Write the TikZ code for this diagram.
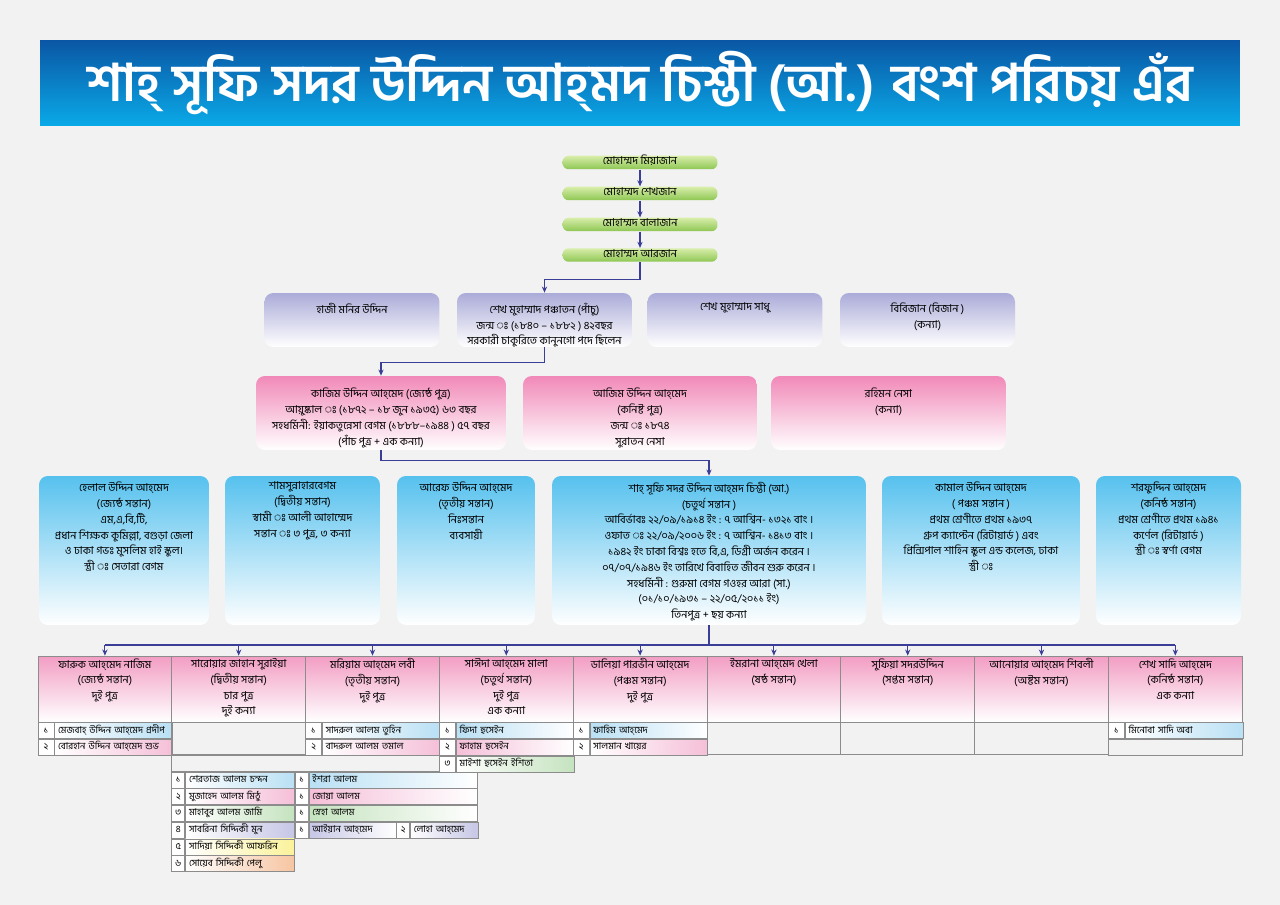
\documentclass[tikz,border=0pt]{standalone}
\usepackage{fontspec}
\setmainfont[Script=Bengali]{Hind Siliguri}
\usetikzlibrary{arrows.meta,positioning}

\definecolor{linec}{HTML}{3A3E96}
\definecolor{bgc}{HTML}{F2F2F2}
\definecolor{titletop}{HTML}{0A56A4}
\definecolor{titlebot}{HTML}{0AAAE8}
\definecolor{chaintop}{HTML}{D8EEAA}
\definecolor{chainbot}{HTML}{8EC653}
\definecolor{lavtop}{HTML}{ABABD9}
\definecolor{pinktop}{HTML}{F189B8}
\definecolor{bluetop}{HTML}{56C1EE}
\definecolor{headtop}{HTML}{F29DC3}
\definecolor{cellc}{HTML}{8C8C8C}
\definecolor{kblue}{HTML}{B9E0F4}
\definecolor{kpink}{HTML}{F5BFD8}
\definecolor{kgreen}{HTML}{C5E3BF}
\definecolor{klav}{HTML}{C6C6E6}
\definecolor{kyel}{HTML}{FBF29A}
\definecolor{kpeach}{HTML}{F6C5A2}

% number cell + name cell of one child
\newcommand{\gkid}[7]{%
  \node[numcell, minimum width=#3, anchor=north west] (#1n) at #2 {#4};
  \node[namecell, #6, text width=#7, right=0pt of #1n] (#1) {\mbox{\hspace*{2pt}#5}};
}

\begin{document}
\begin{tikzpicture}[x=0.02cm, y=-0.02cm, font=\fontsize{6.2}{9}\selectfont,
  arr/.style={-{Stealth[length=3.5pt,width=3pt]}, draw=linec, line width=0.6pt},
  bar/.style={draw=linec, line width=0.6pt},
  banner/.style={top color=titletop, bottom color=titlebot, minimum width=24cm, minimum height=1.72cm, text=white, font=\fontsize{29.5}{35}\selectfont\bfseries},
  chainbox/.style={rounded corners=3.5pt, top color=chaintop, bottom color=chainbot, minimum width=3.1cm, minimum height=0.27cm, inner sep=0pt, text height=4pt, text depth=1.4pt},
  uncle/.style={rounded corners=5pt, top color=lavtop, bottom color=white, minimum width=3.5cm, minimum height=1.08cm},
  son/.style={rounded corners=5pt, top color=pinktop, bottom color=white, minimum height=1.48cm},
  kid/.style={rounded corners=5pt, top color=bluetop, bottom color=white, minimum height=2.98cm},
  head/.style={draw=cellc, line width=0.4pt, top color=headtop, bottom color=white, minimum width=2.676cm, minimum height=1.32cm},
  txt/.style={align=center, inner sep=0pt},
  numcell/.style={draw=cellc, line width=0.4pt, fill=white, minimum height=0.32cm, inner sep=0pt, text height=4.2pt, text depth=1.4pt, font=\fontsize{5.4}{7}\selectfont},
  namecell/.style={draw=cellc, line width=0.4pt, minimum height=0.32cm, inner sep=0pt, text height=4.2pt, text depth=1.4pt, align=left, font=\fontsize{5.4}{7}\selectfont},
  emptycell/.style={draw=cellc, line width=0.4pt, anchor=north west, inner sep=0pt}]
\useasboundingbox (0,0) rectangle (1280,905);
\fill[bgc] (0,0) rectangle (1280,905);

% title
\node[banner] (title) at (640,83) {শাহ্ সূফি সদর উদ্দিন আহ্^^^^200cমদ চিশ্তী (আ.) বংশ পরিচয় এঁর};

% forefathers
\node[chainbox] (c1) at (640,162.5) {মোহাম্মদ মিয়াজান};
\node[chainbox] (c2) at (640,193.5) {মোহাম্মদ শেখজান};
\node[chainbox] (c3) at (640,224.5) {মোহাম্মদ বালাজান};
\node[chainbox] (c4) at (640,255) {মোহাম্মদ আরজান};
\draw[arr] (c1) -- (c2);
\draw[arr] (c2) -- (c3);
\draw[arr] (c3) -- (c4);

% second generation
\node[uncle] (p1) at (352,320) {};
\node[uncle] (p2) at (544.5,320) {};
\node[uncle] (p3) at (735,320) {};
\node[uncle] (p4) at (927.5,320) {};
\node[txt, below=2mm of p1.north] (p1t) {হাজী মনির উদ্দিন};
\node[txt, below=2mm of p2.north] (p2t) {শেখ মুহাম্মাদ পঞ্চাতন (পাঁচু)\\জন্ম ঃ (১৮৪০ – ১৮৮২ ) ৪২বছর\\সরকারী চাকুরিতে কানুনগো পদে ছিলেন};
\node[txt, below=2mm of p3.north] (p3t) {শেখ মুহাম্মাদ সাধু};
\node[txt, below=2mm of p4.north] (p4t) {বিবিজান (বিজান )\\(কন্যা)};
\draw[arr] (c4.south) -- ++(0,17) -| (p2.north);

% third generation
\node[son, minimum width=5cm] (k1) at (381,413) {};
\node[son, minimum width=4.68cm] (k2) at (640,413) {};
\node[son, minimum width=4.7cm] (k3) at (888.5,413) {};
\node[txt, below=2.4mm of k1.north] (k1t) {কাজিম উদ্দিন আহ্^^^^200cমেদ  (জ্যেষ্ঠ পুত্র)\\আয়ুষ্কাল ঃ  (১৮৭২ – ১৮ জুন ১৯৩৫) ৬৩ বছর\\সহধর্মিনী: ইয়াকতুন্নেসা বেগম (১৮৮৮–১৯৪৪ ) ৫৭ বছর\\(পাঁচ পুত্র + এক কন্যা)};
\node[txt, below=2.4mm of k2.north] (k2t) {আজিম উদ্দিন আহ্^^^^200cমেদ\\(কনিষ্ট পুত্র)\\জন্ম ঃ ১৮৭৪\\সুরাতন নেসা};
\node[txt, below=2.4mm of k3.north] (k3t) {রহিমন নেসা\\(কন্যা)};
\draw[arr] (p2.south) -- ++(0,15) -| (k1.north);

% fourth generation
\node[kid, minimum width=3.4cm] (b1) at (124,550.5) {};
\node[kid, minimum width=3.1cm] (b2) at (302.5,550.5) {};
\node[kid, minimum width=2.76cm] (b3) at (466,550.5) {};
\node[kid, minimum width=6.28cm] (b4) at (709,550.5) {};
\node[kid, minimum width=3.96cm] (b5) at (981,550.5) {};
\node[kid, minimum width=2.9cm] (b6) at (1168.5,550.5) {};
\node[txt, below=1.2mm of b1.north] (b1t) {হেলাল উদ্দিন আহ্^^^^200cমেদ\\(জ্যেষ্ঠ সন্তান)\\এম,এ,বি,টি,\\প্রধান শিক্ষক কুমিল্লা, বগুড়া জেলা\\ও ঢাকা গভঃ মুসলিম হাই স্কুল।\\স্ত্রী ঃ সেতারা বেগম};
\node[txt, below=1.2mm of b2.north] (b2t) {শামসুন্নাহারবেগম\\(দ্বিতীয় সন্তান)\\স্বামী ঃ আলী আহাম্মেদ\\সন্তান ঃ ৩ পুত্র, ৩ কন্যা};
\node[txt, below=1.2mm of b3.north] (b3t) {আরেফ উদ্দিন আহ্^^^^200cমেদ\\(তৃতীয় সন্তান)\\নিঃসন্তান\\ব্যবসায়ী};
\node[txt, below=1.2mm of b4.north] (b4t) {শাহ্ সূফি সদর উদ্দিন আহ্^^^^200cমদ চিশ্তী (আ.)\\(চতুর্থ সন্তান )\\আবির্ভাবঃ ২২/০৯/১৯১৪ ইং : ৭ আশ্বিন- ১৩২১ বাং ।\\ওফাত ঃ ২২/০৯/২০০৬ ইং : ৭ আশ্বিন- ১৪১৩ বাং ।\\১৯৪২ ইং ঢাকা বিশ্বঃ হতে বি,এ, ডিগ্রী অর্জন করেন ।\\০৭/০৭/১৯৪৬ ইং তারিখে বিবাহিত জীবন শুরু করেন ।\\সহধর্মিনী : গুরুমা বেগম গওহর আরা (সা.)\\(০১/১০/১৯৩১ – ২২/০৫/২০১১ ইং)\\তিনপুত্র + ছয় কন্যা};
\node[txt, below=1.2mm of b5.north] (b5t) {কামাল উদ্দিন আহ্^^^^200cমেদ\\( পঞ্চম সন্তান )\\প্রথম শ্রেণীতে প্রথম ১৯৩৭\\গ্রুপ ক্যাপ্টেন (রিটায়ার্ড ) এবং\\প্রিন্সিপাল শাহিন স্কুল এন্ড কলেজ, ঢাকা\\স্ত্রী ঃ};
\node[txt, below=1.2mm of b6.north] (b6t) {শরফুদ্দিন আহ্^^^^200cমেদ\\(কনিষ্ঠ সন্তান)\\প্রথম শ্রেণীতে প্রথম ১৯৪১\\কর্ণেল (রিটায়ার্ড )\\স্ত্রী ঃ স্বর্ণা বেগম};
\draw[arr] (k1.south) -- ++(0,10) -| (b4.north);

% fifth generation
\foreach \i in {1,...,9}
  \node[head] (h\i) at ({38+133.8*(\i-0.5)},689) {};
\node[txt, below=0.5mm of h1.north] (h1t) {ফারুক আহ্^^^^200cমেদ নাজিম\\(জ্যেষ্ঠ সন্তান)\\দুই পুত্র};
\node[txt, below=0.5mm of h2.north] (h2t) {সারোয়ার জাহান সুরাইয়া\\(দ্বিতীয় সন্তান)\\চার পুত্র\\দুই কন্যা};
\node[txt, below=0.5mm of h3.north] (h3t) {মরিয়াম আহ্^^^^200cমেদ লবী\\(তৃতীয় সন্তান)\\দুই পুত্র};
\node[txt, below=0.5mm of h4.north] (h4t) {সাঈদা আহ্^^^^200cমেদ মালা\\(চতুর্থ সন্তান)\\দুই পুত্র\\এক কন্যা};
\node[txt, below=0.5mm of h5.north] (h5t) {ডালিয়া পারভীন আহ্^^^^200cমেদ\\(পঞ্চম সন্তান)\\দুই পুত্র};
\node[txt, below=0.5mm of h6.north] (h6t) {ইমরানা আহ্^^^^200cমেদ খেলা\\(ষষ্ঠ সন্তান)};
\node[txt, below=0.5mm of h7.north] (h7t) {সুফিয়া সদরউদ্দিন\\(সপ্তম সন্তান)};
\node[txt, below=0.5mm of h8.north] (h8t) {আনোয়ার আহ্^^^^200cমেদ শিবলী\\(অষ্টম সন্তান)};
\node[txt, below=0.5mm of h9.north] (h9t) {শেখ সাদি আহ্^^^^200cমেদ\\(কনিষ্ঠ সন্তান)\\এক কন্যা};
\coordinate (bus) at (709,645);
\draw[bar] (b4.south) -- (bus);
\draw[bar] (h1.north |- bus) -- (h9.north |- bus);
\foreach \i in {1,...,9}
  \draw[arr] (h\i.north |- bus) -- (h\i.north);

% grandchildren
\gkid{g11}{(h1.south west)}{0.32cm}{১}{মেজবাহ্ উদ্দিন আহ্^^^^200cমেদ প্রদীপ}{left color=white, right color=kblue}{2.356cm}
\gkid{g12}{(g11n.south west)}{0.32cm}{২}{বোরহান উদ্দিন আহ্^^^^200cমেদ শুভ}{left color=white, right color=kpink}{2.356cm}
\node[emptycell, minimum width=2.676cm, minimum height=0.64cm] (e2) at (h2.south west) {};
\node[emptycell, minimum width=5.352cm, minimum height=0.32cm] (e23) at (e2.south west) {};
\gkid{g31}{(h3.south west)}{0.32cm}{১}{সাদরুল আলম তুহিন}{left color=white, right color=kblue}{2.356cm}
\gkid{g32}{(g31n.south west)}{0.32cm}{২}{বাদরুল আলম তমাল}{left color=white, right color=kpink}{2.356cm}
\gkid{g41}{(h4.south west)}{0.32cm}{১}{ফিদা হুসেইন}{left color=kblue, right color=white}{2.356cm}
\gkid{g42}{(g41n.south west)}{0.32cm}{২}{ফাহাম হুসেইন}{left color=kpink, right color=white}{2.356cm}
\gkid{g43}{(g42n.south west)}{0.32cm}{৩}{মাইশা হুসেইন ইশিতা}{left color=white, right color=kgreen}{2.356cm}
\gkid{g51}{(h5.south west)}{0.32cm}{১}{ফাহিম আহ্^^^^200cমেদ}{left color=kblue, right color=white}{2.356cm}
\gkid{g52}{(g51n.south west)}{0.32cm}{২}{সালমান খায়ের}{left color=white, right color=kpink}{2.356cm}
\node[emptycell, minimum width=2.676cm, minimum height=0.64cm] (e6) at (h6.south west) {};
\node[emptycell, minimum width=2.676cm, minimum height=0.64cm] (e7) at (h7.south west) {};
\node[emptycell, minimum width=2.676cm, minimum height=0.64cm] (e8) at (h8.south west) {};
\gkid{g91}{(h9.south west)}{0.32cm}{১}{মিনোবা সাদি অবা}{left color=white, right color=kblue}{2.356cm}
\node[emptycell, minimum width=2.676cm, minimum height=0.32cm] (e9) at (g91n.south west) {};

% children of the second daughter
\gkid{r1}{(e23.south west)}{0.26cm}{১}{শেরতাজ আলম চন্দন}{left color=white, right color=kblue}{2.18cm}
\gkid{r1b}{(r1.north east)}{0.26cm}{১}{ইশরা আলম}{left color=kblue, right color=white}{3.36cm}
\gkid{r2}{(r1n.south west)}{0.26cm}{২}{মুজাহেদ আলম মিঠু}{left color=white, right color=kpink}{2.18cm}
\gkid{r2b}{(r2.north east)}{0.26cm}{১}{জোয়া আলম}{left color=kpink, right color=white}{3.36cm}
\gkid{r3}{(r2n.south west)}{0.26cm}{৩}{মাহাবুব আলম জামি}{left color=white, right color=kgreen}{2.18cm}
\gkid{r3b}{(r3.north east)}{0.26cm}{১}{স্নেহা আলম}{left color=kgreen, right color=white}{3.36cm}
\gkid{r4}{(r3n.south west)}{0.26cm}{৪}{সাবরিনা সিদ্দিকী মুন}{left color=white, right color=klav}{2.18cm}
\gkid{r4b}{(r4.north east)}{0.26cm}{১}{আইয়ান আহ্^^^^200cমেদ}{left color=klav, right color=white}{1.74cm}
\gkid{r4c}{(r4b.north east)}{0.26cm}{২}{লোহা আহ্^^^^200cমেদ}{left color=white, right color=klav}{1.36cm}
\gkid{r5}{(r4n.south west)}{0.26cm}{৫}{সাদিয়া সিদ্দিকী আফরিন}{left color=white, right color=kyel}{2.18cm}
\gkid{r6}{(r5n.south west)}{0.26cm}{৬}{সোয়েব সিদ্দিকী পেলু}{left color=white, right color=kpeach}{2.18cm}
\end{tikzpicture}
\end{document}
